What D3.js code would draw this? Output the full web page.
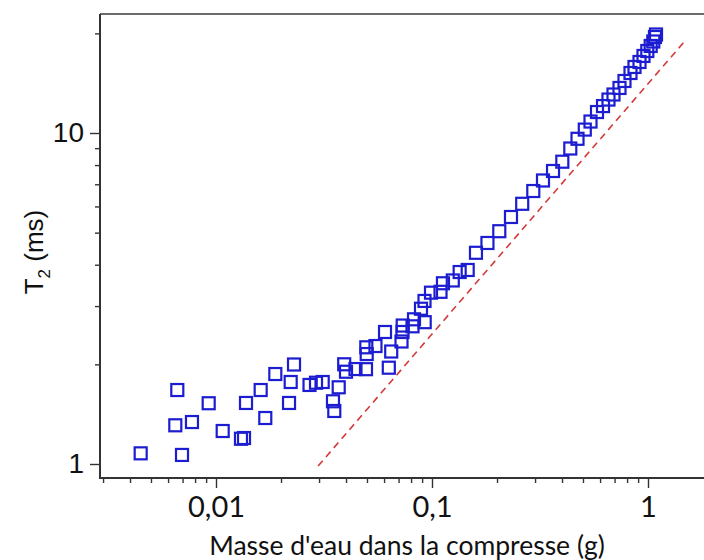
<!DOCTYPE html>
<html>
<head>
<meta charset="utf-8">
<script src="https://cdn.jsdelivr.net/npm/d3@7/dist/d3.min.js"></script>
<style>
  html, body { margin: 0; padding: 0; background: #fff; }
  svg { display: block; }
</style>
</head>
<body>
<svg id="chart" width="704" height="560"></svg>
<script>
// ---- Data ----
const masse = [
  0.00448, 0.00696, 0.00662, 0.00648, 0.00774, 0.00925, 0.01074, 0.01305, 0.01348, 0.01377,
  0.0161, 0.01691, 0.01882, 0.02297, 0.02217, 0.02178, 0.0271, 0.02904, 0.03119, 0.03699,
  0.0348, 0.03529, 0.03922, 0.03998, 0.04423, 0.04948, 0.04964, 0.04986, 0.05474, 0.0631,
  0.0606, 0.06474, 0.07225, 0.07302, 0.07318, 0.08124, 0.08255, 0.09251, 0.08893, 0.09232,
  0.09894, 0.1095, 0.1124, 0.1248, 0.1343, 0.1463, 0.1598, 0.1806, 0.2049, 0.2321,
  0.2616, 0.2944, 0.3265, 0.3633, 0.4012, 0.4368, 0.4717, 0.5097, 0.5418, 0.5806,
  0.619, 0.6563, 0.6922, 0.738, 0.7783, 0.8297, 0.866, 0.9135, 0.9532, 0.9926,
  1.029, 1.058, 1.077, 1.089
];
const t2 = [
  1.077, 1.065, 1.673, 1.309, 1.339, 1.526, 1.258, 1.192, 1.198, 1.529,
  1.673, 1.377, 1.870, 1.998, 1.769, 1.529, 1.733, 1.760, 1.769, 1.705,
  1.547, 1.446, 2.001, 1.900, 1.936, 1.934, 2.252, 2.149, 2.272, 1.954,
  2.505, 2.187, 2.345, 2.505, 2.620, 2.606, 2.736, 2.682, 2.945, 3.109,
  3.293, 3.313, 3.516, 3.585, 3.802, 3.856, 4.346, 4.653, 5.050, 5.575,
  6.111, 6.679, 7.187, 7.677, 8.190, 8.978, 9.605, 10.24, 10.83, 11.57,
  12.06, 12.62, 13.07, 13.68, 14.36, 15.18, 15.83, 16.39, 17.09, 17.69,
  18.32, 18.90, 19.50, 19.84
];
// dashed reference line (two end points)
const lineMasse = [0.0297, 1.468];
const lineT2 = [0.986, 18.83];
// tick labels
const xMajorTicks = [0.01, 0.1, 1];
const xMajorLabels = ["0,01", "0,1", "1"];
const yMajorTicks = [1, 10];
const yMajorLabels = ["1", "10"];
const xMinorTicks = [0.003,0.004,0.005,0.006,0.007,0.008,0.009,
                     0.02,0.03,0.04,0.05,0.06,0.07,0.08,0.09,
                     0.2,0.3,0.4,0.5,0.6,0.7,0.8,0.9];
const yMinorTicks = [2,3,4,5,6,7,8,9,20];
const xTitle = "Masse d'eau dans la compresse (g)";

(function () {
// ---- Layout ----
const svg = d3.select("#chart");
const pLeft = 100, pRight = 704, pTop = 14, pBottom = 478;

const x = d3.scaleLog().domain([0.01, 1]).range([216, 648]);
const y = d3.scaleLog().domain([1, 10]).range([464, 133]);

// frame: top line
svg.append("line")
  .attr("x1", pLeft).attr("x2", pRight + 2)
  .attr("y1", pTop).attr("y2", pTop)
  .attr("stroke", "#3a3a3a").attr("stroke-width", 1.6);

// X axis
const xAxisMinor = d3.axisBottom(x).tickValues(xMinorTicks).tickSize(5).tickFormat("");
const xAxisMajor = d3.axisBottom(x).tickValues(xMajorTicks).tickSize(10).tickPadding(8)
  .tickFormat((d, i) => xMajorLabels[i]);

const gxMinor = svg.append("g").attr("transform", `translate(0,${pBottom})`).call(xAxisMinor);
const gxMajor = svg.append("g").attr("transform", `translate(0,${pBottom})`).call(xAxisMajor);
[gxMinor, gxMajor].forEach(g => {
  g.select(".domain").remove();
  g.selectAll(".tick line").attr("stroke", "#333").attr("stroke-width", 1.4);
});
gxMajor.selectAll(".tick text")
  .attr("fill", "#111")
  .style("font-family", "Lato, 'Open Sans', sans-serif")
  .style("font-size", "29px");

// Y axis
const yAxisMinor = d3.axisLeft(y).tickValues(yMinorTicks).tickSize(5).tickFormat("");
const yAxisMajor = d3.axisLeft(y).tickValues(yMajorTicks).tickSize(10).tickPadding(6)
  .tickFormat((d, i) => yMajorLabels[i]);
const gyMinor = svg.append("g").attr("transform", `translate(${pLeft},0)`).call(yAxisMinor);
const gyMajor = svg.append("g").attr("transform", `translate(${pLeft},0)`).call(yAxisMajor);
[gyMinor, gyMajor].forEach(g => {
  g.select(".domain").remove();
  g.selectAll(".tick line").attr("stroke", "#333").attr("stroke-width", 1.4);
});
gyMajor.selectAll(".tick text")
  .attr("fill", "#111")
  .style("font-family", "'Liberation Sans', Arial, sans-serif")
  .style("font-size", "28px");

// axis lines (frame left & bottom)
svg.append("line").attr("x1", pLeft).attr("x2", pLeft).attr("y1", pTop).attr("y2", pBottom + 1)
  .attr("stroke", "#333").attr("stroke-width", 2);
svg.append("line").attr("x1", pLeft - 1).attr("x2", pRight + 2).attr("y1", pBottom).attr("y2", pBottom)
  .attr("stroke", "#333").attr("stroke-width", 2);

// dashed reference line
const lineData = lineMasse.map((m, i) => ({ m, t: lineT2[i] }));
svg.append("path")
  .datum(lineData)
  .attr("d", d3.line().x(d => x(d.m)).y(d => y(d.t)))
  .attr("fill", "none")
  .attr("stroke", "#d23a3a")
  .attr("stroke-width", 1.6)
  .attr("stroke-dasharray", "7,5");

// points (open squares)
const pts = masse.map((m, i) => ({ m, t: t2[i] }));
const sz = 12;
svg.append("g").selectAll("rect")
  .data(pts)
  .join("rect")
  .attr("x", d => x(d.m) - sz / 2)
  .attr("y", d => y(d.t) - sz / 2)
  .attr("width", sz).attr("height", sz)
  .attr("fill", "none")
  .attr("stroke", "#1c1cd0")
  .attr("stroke-width", 2.2);

// titles
svg.append("text")
  .attr("x", 407).attr("y", 555)
  .attr("text-anchor", "middle")
  .attr("fill", "#111")
  .style("font-family", "Lato, 'Open Sans', sans-serif")
  .style("font-size", "26.5px")
  .text(xTitle);

const yt = svg.append("text")
  .attr("transform", "translate(43,252) rotate(-90)")
  .attr("text-anchor", "middle")
  .attr("fill", "#111")
  .style("font-family", "'Liberation Sans', Arial, sans-serif")
  .style("font-size", "26px");
yt.append("tspan").text("T");
yt.append("tspan").attr("dy", 7).style("font-size", "17px").text("2");
yt.append("tspan").attr("dy", -7).text(" (ms)");
})();
</script>
</body>
</html>
